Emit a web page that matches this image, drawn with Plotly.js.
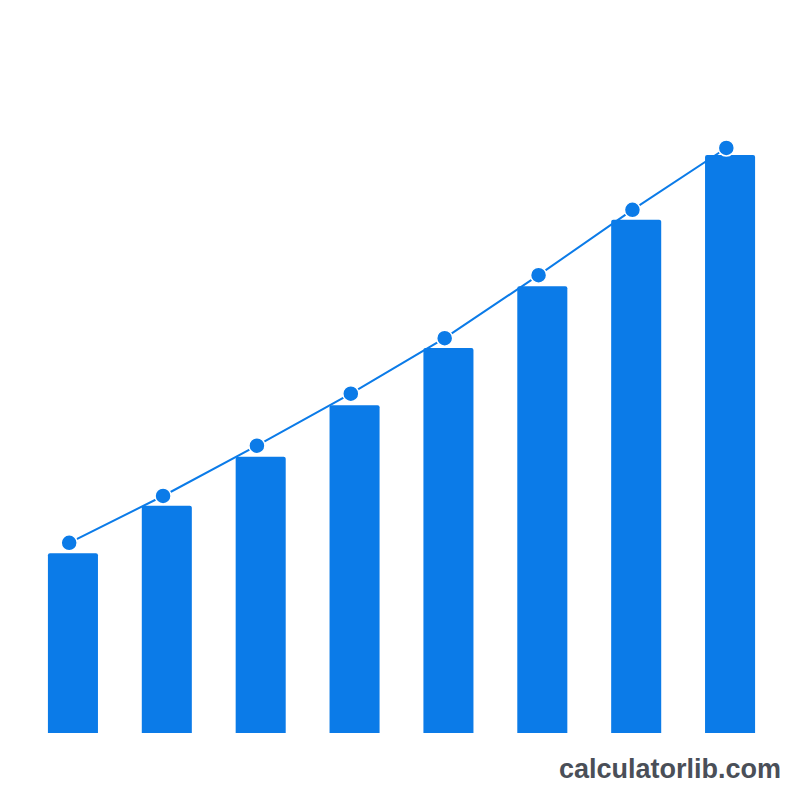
<!DOCTYPE html>
<html>
<head>
<meta charset="utf-8">
<script src="https://cdn.plot.ly/plotly-3.0.1.min.js"></script>
<style>
    html, body { margin: 0; padding: 0; background: #fff; }
    #plotElement { width: 800px; height: 800px; }
</style>
</head>
<body>
<div id="plotElement"></div>
<script>
const categories = ["1", "2", "3", "4", "5", "6", "7", "8"];
const barValues = [31.1, 39.3, 47.8, 56.7, 66.6, 77.3, 88.8, 100];
const lineValues = [32.9, 41.0, 49.7, 58.7, 68.3, 79.2, 90.5, 101.2];

const blue = "#0b7be8";

const data = [
    {
        type: "bar",
        x: categories,
        y: barValues,
        marker: { color: blue },
        hoverinfo: "skip"
    },
    {
        type: "scatter",
        mode: "lines+markers",
        x: categories,
        y: lineValues,
        xaxis: "x2",
        line: { color: blue, width: 2 },
        marker: { color: blue, size: 16, line: { color: "#fff", width: 1.5 } },
        hoverinfo: "skip"
    }
];

const layout = {
    width: 800,
    height: 800,
    margin: { l: 26, r: 23, t: 100, b: 67 },
    paper_bgcolor: "#fff",
    plot_bgcolor: "#fff",
    showlegend: false,
    bargap: 0.467,
    barcornerradius: 2,
    xaxis: { type: "category", range: [-0.5, 7.5], visible: false, fixedrange: true },
    xaxis2: { type: "category", range: [-0.46, 7.54], overlaying: "x", visible: false, fixedrange: true },
    yaxis: { range: [0, 109.5], visible: false, fixedrange: true },
    annotations: [{
        text: "<b>calculatorlib.com</b>",
        xref: "paper", yref: "paper",
        x: 1.008, y: -0.03,
        xanchor: "right", yanchor: "top",
        showarrow: false,
        font: { family: "Liberation Sans, Arial, sans-serif", size: 27, color: "#4a4f58" }
    }]
};

Plotly.newPlot("plotElement", data, layout, { displayModeBar: false, staticPlot: true });
</script>
</body>
</html>
